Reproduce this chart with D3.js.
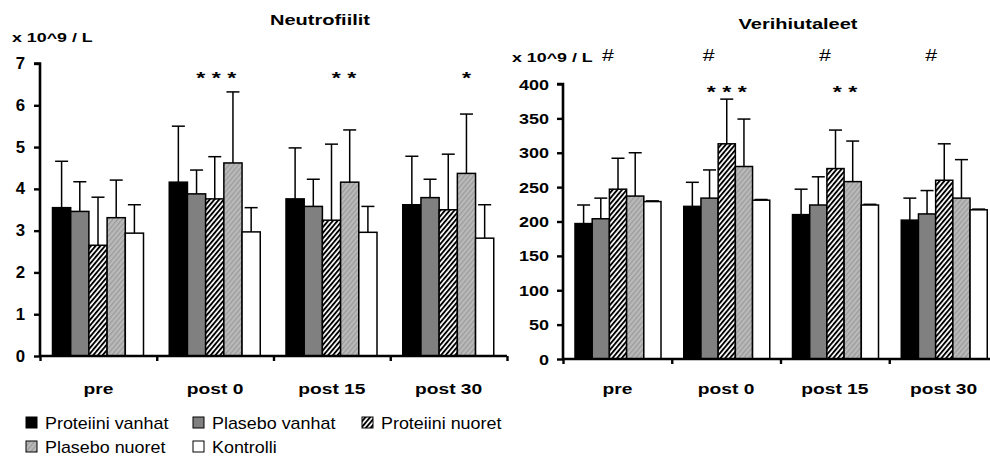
<!DOCTYPE html>
<html><head><meta charset="utf-8">
<script src="https://cdn.jsdelivr.net/npm/d3@7"></script>
<style>
html,body{margin:0;padding:0;background:#fff;}
svg{display:block;font-family:"Liberation Sans",Arial,sans-serif;}
</style></head>
<body>
<svg id="chart" width="990" height="464"></svg>
<script>
const categories = ["pre", "post 0", "post 15", "post 30"];
const series = ["Proteiini vanhat", "Plasebo vanhat", "Proteiini nuoret", "Plasebo nuoret", "Kontrolli"];

// Neutrofiilit (x 10^9 / L): means and SD by series, categories in order
const neutroMean = [
  [3.55, 4.16, 3.76, 3.62],
  [3.46, 3.88, 3.58, 3.79],
  [2.65, 3.76, 3.25, 3.50],
  [3.31, 4.62, 4.16, 4.37],
  [2.94, 2.97, 2.96, 2.82]
];
const neutroSD = [
  [1.11, 1.34, 1.22, 1.16],
  [0.71, 0.57, 0.65, 0.44],
  [1.15, 1.01, 1.82, 1.33],
  [0.90, 1.70, 1.25, 1.42],
  [0.68, 0.58, 0.62, 0.80]
];
const neutroTicks = [0, 1, 2, 3, 4, 5, 6, 7];
const neutroStars = ["", "* * *", "* *", "*"];
const neutroStarAt = [0, 2.08, 2.69, 3.0];

// Verihiutaleet (x 10^9 / L)
const plateMean = [
  [197, 222, 210, 202],
  [204, 234, 224, 211],
  [247, 313, 277, 260],
  [237, 280, 258, 234],
  [229, 231, 224, 217]
];
const plateSD = [
  [27, 35, 37, 32],
  [30, 41, 41, 34],
  [45, 65, 56, 53],
  [63, 69, 59, 56],
  [1, 1, 1, 1]
];
const plateTicks = [0, 50, 100, 150, 200, 250, 300, 350, 400];
const plateStars = ["", "* * *", "* *", ""];
const plateStarAt = [0, 2.0, 2.55, 0];
const plateHash = ["#", "#", "#", "#"];
const plateHashAt = [1.42, 0.95, 1.39, 1.24];

const svg = d3.select("#chart");
const defs = svg.append("defs");

// patterns
const p1 = defs.append("pattern").attr("id", "hatchBW").attr("patternUnits", "userSpaceOnUse")
  .attr("width", 3.6).attr("height", 3.6).attr("patternTransform", "rotate(40)");
p1.append("rect").attr("width", 3.6).attr("height", 3.6).attr("fill", "#fff");
p1.append("rect").attr("width", 1.9).attr("height", 3.6).attr("fill", "#000");
const p2 = defs.append("pattern").attr("id", "hatchGrey").attr("patternUnits", "userSpaceOnUse")
  .attr("width", 3.6).attr("height", 3.6).attr("patternTransform", "rotate(40)");
p2.append("rect").attr("width", 3.6).attr("height", 3.6).attr("fill", "#bababa");
p2.append("rect").attr("width", 1.3).attr("height", 3.6).attr("fill", "#9c9c9c");

const fills = ["#000000", "#808080", "url(#hatchBW)", "url(#hatchGrey)", "#ffffff"];

function stext(g, x, y, str, size, weight, sx, anchor) {
  return g.append("text")
    .attr("transform", `translate(${x},${y}) scale(${sx},1)`)
    .attr("text-anchor", anchor)
    .attr("font-size", size + "px")
    .attr("font-weight", weight)
    .attr("fill", "#000")
    .text(str);
}

function drawPanel(opt) {
  const g = svg.append("g");
  const y = d3.scaleLinear().domain(opt.domain).range([opt.y0, opt.y1]);
  const xCat = d3.scaleBand().domain(categories).range([opt.x0, opt.x1]).padding(0);
  const xSer = d3.scaleBand().domain(series).range([opt.groupPad, opt.groupPad + opt.groupW]).padding(0);
  const xPos = d3.scaleLinear().domain([0, 1]).range([opt.groupPad, opt.groupPad + xSer.bandwidth()]);

  // bars
  series.forEach((s, si) => {
    categories.forEach((c, ci) => {
      const m = opt.mean[si][ci], sd = opt.sd[si][ci];
      const bx = xCat(c) + xSer(s), bw = xSer.bandwidth();
      const cx = bx + bw / 2;
      g.append("line").attr("x1", cx).attr("x2", cx).attr("y1", y(m)).attr("y2", y(m + sd))
        .attr("stroke", "#000").attr("stroke-width", 1.5);
      g.append("line").attr("x1", cx - opt.cap / 2).attr("x2", cx + opt.cap / 2)
        .attr("y1", y(m + sd)).attr("y2", y(m + sd))
        .attr("stroke", "#000").attr("stroke-width", 1.5);
      g.append("rect").attr("x", bx).attr("y", y(m)).attr("width", bw).attr("height", y(0) - y(m))
        .attr("fill", fills[si]).attr("stroke", "#000").attr("stroke-width", 1.5);
    });
  });

  // y axis
  const ya = g.append("g").attr("transform", `translate(${opt.x0},0)`)
    .call(d3.axisLeft(y).tickValues(opt.ticks).tickSize(6).tickFormat(""));
  ya.select(".domain").attr("stroke-width", 2.6).attr("d", `M-6,${y(opt.domain[1])}H0V${y(0)}`);
  ya.selectAll(".tick line").attr("stroke-width", 2.4);
  opt.ticks.forEach(t => {
    stext(g, opt.x0 - opt.labelGap, y(t) + 5.5, String(t), opt.tickFont, "bold", opt.tickSx, "end");
  });

  // x axis
  const xl = d3.scaleLinear().domain([0, categories.length]).range([opt.x0, opt.x1]);
  const xa = g.append("g").attr("transform", `translate(0,${y(0)})`)
    .call(d3.axisBottom(xl).tickValues(d3.range(categories.length + 1)).tickSize(5).tickFormat(""));
  xa.select(".domain").attr("stroke-width", 2.6).attr("d", `M${opt.x0},0H${opt.x1}`);
  xa.selectAll(".tick line").attr("stroke-width", 2.4);
  categories.forEach(c => {
    stext(g, xCat(c) + xCat.bandwidth() / 2, 394, c, 15, "bold", 1.28, "middle");
  });

  // titles
  stext(g, opt.titleX, opt.titleY, opt.title, 14.5, "bold", 1.38, "middle");
  stext(g, opt.unitX, opt.unitY, "x 10^9 / L", 13.5, "bold", 1.32, "start");

  // stars
  opt.stars.forEach((s, ci) => {
    if (!s) return;
    stext(g, xCat(categories[ci]) + xPos(opt.starAt[ci] + 0.5), opt.starY, s, 16, "bold", 1.45, "middle");
  });
  if (opt.hash) {
    opt.hash.forEach((s, ci) => {
      stext(g, xCat(categories[ci]) + xPos(opt.hashAt[ci] + 0.5), opt.hashY, s, 17, "normal", 1.25, "middle");
    });
  }
  return g;
}

drawPanel({
  domain: [0, 7], ticks: neutroTicks, y0: 356, y1: 63.5,
  x0: 40, x1: 507, groupPad: 12.5, groupW: 91, cap: 13,
  mean: neutroMean, sd: neutroSD,
  tickFont: 16, tickSx: 1.05, labelGap: 15,
  title: "Neutrofiilit", titleX: 320, titleY: 25, unitX: 12, unitY: 42,
  stars: neutroStars, starAt: neutroStarAt, starY: 84
});

drawPanel({
  domain: [0, 400], ticks: plateTicks, y0: 359, y1: 84,
  x0: 563, x1: 998, groupPad: 12, groupW: 86, cap: 13,
  mean: plateMean, sd: plateSD,
  tickFont: 15, tickSx: 1.2, labelGap: 14,
  title: "Verihiutaleet", titleX: 798, titleY: 29, unitX: 512, unitY: 62,
  stars: plateStars, starAt: plateStarAt, starY: 98,
  hash: plateHash, hashAt: plateHashAt, hashY: 61
});

// legend
const legend = svg.append("g");
const legX = [26, 193, 362, 26, 193];
const legRow = [0, 0, 0, 1, 1];
series.forEach((s, i) => {
  const ly = 417 + legRow[i] * 24;
  legend.append("rect").attr("x", legX[i]).attr("y", ly).attr("width", 11).attr("height", 11)
    .attr("fill", fills[i]).attr("stroke", "#000").attr("stroke-width", 1);
  stext(legend, legX[i] + 19, ly + 11.5, s, 16, "normal", 1.12, "start");
});
</script>
</body></html>
